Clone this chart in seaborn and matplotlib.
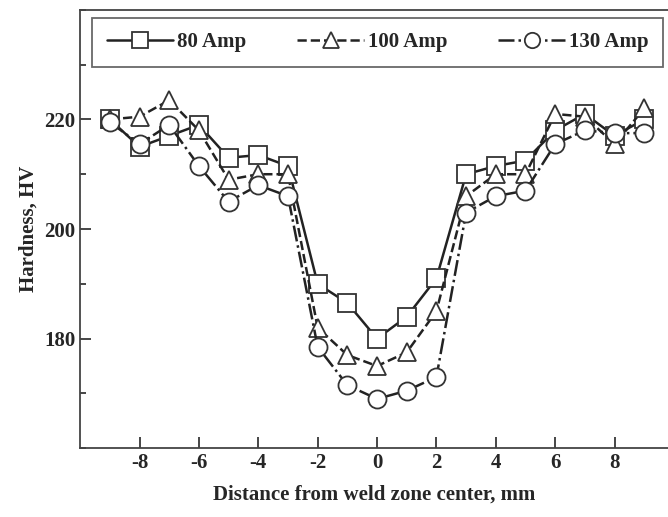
import numpy as np
import pandas as pd
import matplotlib
matplotlib.use("Agg")
import matplotlib.pyplot as plt
import seaborn as sns
from matplotlib.ticker import MultipleLocator

# Data
distance = [-9, -8, -7, -6, -5, -4, -3, -2, -1, 0, 1, 2, 3, 4, 5, 6, 7, 8, 9]
hv_80 = [220, 215, 217, 219, 213, 213.5, 211.5, 190, 186.5, 180, 184, 191,
         210, 211.5, 212.5, 218, 221, 217, 220]
hv_100 = [220, 220.5, 223.5, 218, 209, 210, 210, 182, 177, 175, 177.5, 185,
          206, 210, 210, 221, 220.5, 215.5, 222]
hv_130 = [219.5, 215.5, 219, 211.5, 205, 208, 206, 178.5, 171.5, 169, 170.5, 173,
          203, 206, 207, 215.5, 218, 217.5, 217.5]
labels = ["80 Amp", "100 Amp", "130 Amp"]
xticks = [-8, -6, -4, -2, 0, 2, 4, 6, 8]
yticks = [180, 200, 220]

df = pd.DataFrame({
    "Distance": distance * 3,
    "Hardness": hv_80 + hv_100 + hv_130,
    "Current": [labels[0]] * 19 + [labels[1]] * 19 + [labels[2]] * 19,
})

sns.set_style("ticks")
plt.rcParams['font.family'] = ['Liberation Serif', 'DejaVu Serif']
plt.rcParams['font.weight'] = 'bold'
plt.rcParams['axes.unicode_minus'] = False

fig = plt.figure(figsize=(6.68, 5.17), dpi=100)
ax = fig.add_axes([0.12, 0.133, 0.88, 0.848])

styles = {"80 Amp": ("-", "s"), "100 Amp": ("--", "^"), "130 Amp": ("-.", "o")}
for lab in labels:
    ls, mk = styles[lab]
    sub = df[df["Current"] == lab]
    sns.lineplot(data=sub, x="Distance", y="Hardness", ax=ax, color="#222222",
                 linestyle=ls, linewidth=1.8, marker=mk, markersize=13,
                 markerfacecolor="white", markeredgecolor="#333333",
                 markeredgewidth=1.3, label=lab)

ax.set_xlim(-10, 9.8)
ax.set_ylim(160, 240)
ax.set_xticks(xticks)
ax.set_yticks(yticks)
ax.yaxis.set_minor_locator(MultipleLocator(10))
ax.tick_params(axis='both', direction='in', length=8, width=1.2, labelsize=15)
ax.tick_params(axis='y', which='minor', direction='in', length=4, width=1.2)
ax.spines['right'].set_visible(False)
for s in ['left', 'bottom', 'top']:
    ax.spines[s].set_linewidth(1.3)
    ax.spines[s].set_color("#444444")

ax.set_xlabel("Distance from weld zone center, mm", fontsize=15, fontweight='bold', labelpad=8)
ax.set_ylabel("Hardness, HV", fontsize=15, fontweight='bold')

leg = ax.legend(loc='upper left', bbox_to_anchor=(0.02, 0.982, 0.972, 0.0), mode='expand',
                ncol=3, frameon=True, fancybox=False, edgecolor="#444444",
                handlelength=3.2, handletextpad=0.2, borderpad=0.7, borderaxespad=0,
                markerscale=0.85, prop={'weight': 'bold', 'size': 15})
leg.get_frame().set_linewidth(1.3)

fig.savefig("out.png", dpi=100)
